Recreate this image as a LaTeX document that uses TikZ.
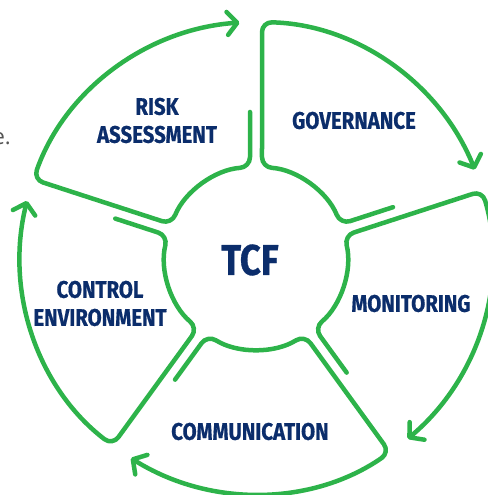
\documentclass[tikz,border=0pt]{standalone}
\usepackage{fontspec}
\usepackage{tikz}
\usetikzlibrary{arrows.meta}
\newfontfamily\labelfont[FakeStretch=0.85,FakeBold=0.6]{Fira Sans}
\newfontfamily\notefont{Open Sans}
\definecolor{tcfgreen}{HTML}{2DB34A}
\definecolor{tcfnavy}{HTML}{0B2D6B}
\definecolor{notegray}{HTML}{555555}
\tikzset{
  segline/.style={draw=tcfgreen, line width=4.5pt, line cap=round, line join=round,
    rounded corners=10pt,
    -{Straight Barb[length=10pt,width=23pt,line cap=round,line join=round]}},
  seglabel/.style={text=tcfnavy, align=center, font=\labelfont\bfseries\fontsize{24}{28}\selectfont}
}

\begin{document}
\begin{tikzpicture}[x=1pt,y=1pt]
\useasboundingbox (-256,-237) rectangle (231,258);
% one outline per segment, turned round the centre
\foreach \a in {90,18,-54,-126,162} {
  \begin{scope}[rotate=\a]
    \draw[segline] (146,6) -- (90.8,6) arc[start angle=3.78, end angle=68.22, radius=91]
      -- (70.54:236) arc[start angle=70.54, end angle=4, radius=236];
  \end{scope}
}
\node[seglabel] (risk) at (-99,137.5) {RISK\\ASSESSMENT};
\node[seglabel] (gov) at (98,137.5) {GOVERNANCE};
\node[seglabel] (mon) at (155,-45.5) {MONITORING};
\node[seglabel] (comm) at (-6,-173.5) {COMMUNICATION};
\node[seglabel] (ctrl) at (-156,-45.5) {CONTROL\\ENVIRONMENT};
\node[text=tcfnavy, font=\labelfont\bfseries\fontsize{43}{43}\selectfont] (tcf) at (-6,-2) {TCF};
\node[anchor=base east, inner sep=0pt, text=notegray, font=\notefont\fontsize{22}{22}\selectfont] (note) at (-245,113) {e.};
\end{tikzpicture}
\end{document}
